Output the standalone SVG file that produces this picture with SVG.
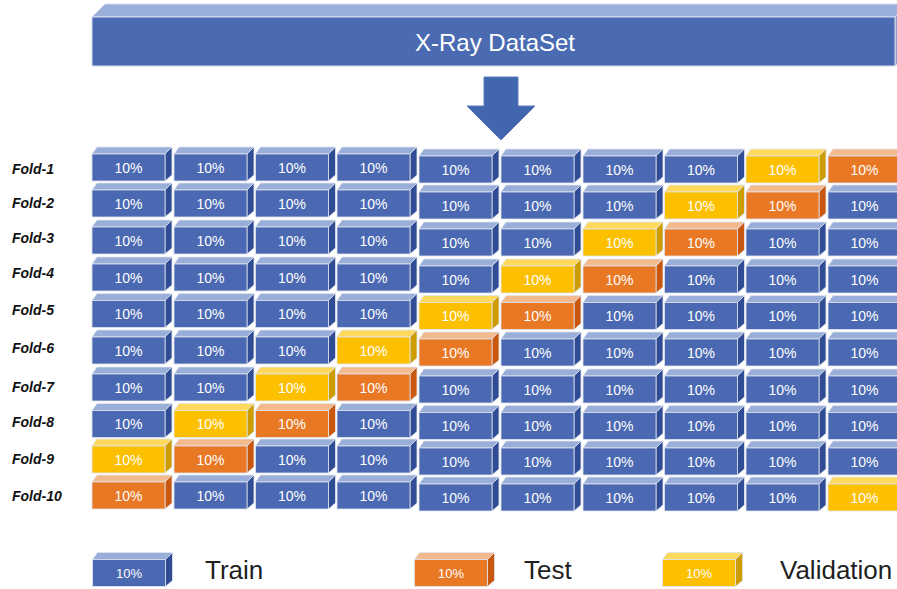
<svg xmlns="http://www.w3.org/2000/svg" xmlns:xlink="http://www.w3.org/1999/xlink" width="897" height="589" viewBox="0 0 897 589">
<style>
.ft{stroke:#dfe4ef;stroke-width:0.8}
.bF{fill:#4A69B2}.bT{fill:#9AAEDA}.bS{fill:#2F4C94}
.oF{fill:#E97824}.oT{fill:#F2BA8D}.oS{fill:#C9580E}
.yF{fill:#FCC000}.yT{fill:#FFD95C}.yS{fill:#CC9C00}
.pc{font-family:"Liberation Sans",Arial,sans-serif;font-size:14px;fill:#ffffff;text-anchor:middle}
.pcl{font-family:"Liberation Sans",Arial,sans-serif;font-size:13px;fill:#ffffff;text-anchor:middle}
.fold{font-family:"Liberation Sans",Arial,sans-serif;font-size:14px;font-weight:bold;font-style:italic;fill:#111111}
.leg{font-family:"Liberation Sans",Arial,sans-serif;font-size:26px;fill:#1f1f1f}
.title{font-family:"Liberation Sans",Arial,sans-serif;font-size:24px;fill:#ffffff;text-anchor:middle}
</style>
<defs>
<g id="B"><polygon class="bT ft" points="0,0 5,-7 80,-7 73,0"/><polygon class="bS ft" points="73,0 80,-7 80,21 73,27"/><rect class="bF ft" x="0" y="0" width="73" height="27"/></g>
<g id="O"><polygon class="oT ft" points="0,0 5,-7 80,-7 73,0"/><polygon class="oS ft" points="73,0 80,-7 80,21 73,27"/><rect class="oF ft" x="0" y="0" width="73" height="27"/></g>
<g id="Y"><polygon class="yT ft" points="0,0 5,-7 80,-7 73,0"/><polygon class="yS ft" points="73,0 80,-7 80,21 73,27"/><rect class="yF ft" x="0" y="0" width="73" height="27"/></g>
</defs>
<rect x="0" y="0" width="897" height="589" fill="#ffffff"/>

<g id="dataset">
<polygon points="92,17 105,4 910,4 895,17" fill="#9BAFDB" stroke="#d6dced" stroke-width="1"/>
<polygon points="895,17 910,4 910,53 895,66" fill="#8A9CCC" stroke="#d6dced" stroke-width="1"/>
<rect x="92" y="17" width="803" height="49" fill="#4A6BB2" stroke="#d6dced" stroke-width="1"/>
<text class="title" x="495" y="51">X-Ray DataSet</text>
</g>

<g id="connectors">
<polygon points="484,77 518,77 518,106 535,106 501,140 467,106 484,106" fill="#4266AD" stroke="#5B7CC0" stroke-width="1"/>
</g>

<g id="labels">
<text class="fold" x="12" y="174">Fold-1</text>
<text class="fold" x="12" y="208">Fold-2</text>
<text class="fold" x="12" y="243">Fold-3</text>
<text class="fold" x="12" y="278">Fold-4</text>
<text class="fold" x="12" y="315">Fold-5</text>
<text class="fold" x="12" y="353">Fold-6</text>
<text class="fold" x="12" y="392">Fold-7</text>
<text class="fold" x="12" y="427">Fold-8</text>
<text class="fold" x="12" y="464">Fold-9</text>
<text class="fold" x="12" y="501">Fold-10</text>
</g>

<g id="fold1">
<g id="r1c1" transform="translate(92,154)"><use href="#B"/><text class="pc" x="36.5" y="18.5">10%</text></g>
<g id="r1c2" transform="translate(174,154)"><use href="#B"/><text class="pc" x="36.5" y="18.5">10%</text></g>
<g id="r1c3" transform="translate(255.5,154)"><use href="#B"/><text class="pc" x="36.5" y="18.5">10%</text></g>
<g id="r1c4" transform="translate(337,154)"><use href="#B"/><text class="pc" x="36.5" y="18.5">10%</text></g>
<g id="r1c5" transform="translate(419,156)"><use href="#B"/><text class="pc" x="36.5" y="18.5">10%</text></g>
<g id="r1c6" transform="translate(501,156)"><use href="#B"/><text class="pc" x="36.5" y="18.5">10%</text></g>
<g id="r1c7" transform="translate(583,156)"><use href="#B"/><text class="pc" x="36.5" y="18.5">10%</text></g>
<g id="r1c8" transform="translate(664.5,156)"><use href="#B"/><text class="pc" x="36.5" y="18.5">10%</text></g>
<g id="r1c9" transform="translate(746,156)"><use href="#Y"/><text class="pc" x="36.5" y="18.5">10%</text></g>
<g id="r1c10" transform="translate(828,156)"><use href="#O"/><text class="pc" x="36.5" y="18.5">10%</text></g>
</g>

<g id="fold2">
<g id="r2c1" transform="translate(92,190)"><use href="#B"/><text class="pc" x="36.5" y="18.5">10%</text></g>
<g id="r2c2" transform="translate(174,190)"><use href="#B"/><text class="pc" x="36.5" y="18.5">10%</text></g>
<g id="r2c3" transform="translate(255.5,190)"><use href="#B"/><text class="pc" x="36.5" y="18.5">10%</text></g>
<g id="r2c4" transform="translate(337,190)"><use href="#B"/><text class="pc" x="36.5" y="18.5">10%</text></g>
<g id="r2c5" transform="translate(419,192)"><use href="#B"/><text class="pc" x="36.5" y="18.5">10%</text></g>
<g id="r2c6" transform="translate(501,192)"><use href="#B"/><text class="pc" x="36.5" y="18.5">10%</text></g>
<g id="r2c7" transform="translate(583,192)"><use href="#B"/><text class="pc" x="36.5" y="18.5">10%</text></g>
<g id="r2c8" transform="translate(664.5,192)"><use href="#Y"/><text class="pc" x="36.5" y="18.5">10%</text></g>
<g id="r2c9" transform="translate(746,192)"><use href="#O"/><text class="pc" x="36.5" y="18.5">10%</text></g>
<g id="r2c10" transform="translate(828,192)"><use href="#B"/><text class="pc" x="36.5" y="18.5">10%</text></g>
</g>

<g id="fold3">
<g id="r3c1" transform="translate(92,227)"><use href="#B"/><text class="pc" x="36.5" y="18.5">10%</text></g>
<g id="r3c2" transform="translate(174,227)"><use href="#B"/><text class="pc" x="36.5" y="18.5">10%</text></g>
<g id="r3c3" transform="translate(255.5,227)"><use href="#B"/><text class="pc" x="36.5" y="18.5">10%</text></g>
<g id="r3c4" transform="translate(337,227)"><use href="#B"/><text class="pc" x="36.5" y="18.5">10%</text></g>
<g id="r3c5" transform="translate(419,229)"><use href="#B"/><text class="pc" x="36.5" y="18.5">10%</text></g>
<g id="r3c6" transform="translate(501,229)"><use href="#B"/><text class="pc" x="36.5" y="18.5">10%</text></g>
<g id="r3c7" transform="translate(583,229)"><use href="#Y"/><text class="pc" x="36.5" y="18.5">10%</text></g>
<g id="r3c8" transform="translate(664.5,229)"><use href="#O"/><text class="pc" x="36.5" y="18.5">10%</text></g>
<g id="r3c9" transform="translate(746,229)"><use href="#B"/><text class="pc" x="36.5" y="18.5">10%</text></g>
<g id="r3c10" transform="translate(828,229)"><use href="#B"/><text class="pc" x="36.5" y="18.5">10%</text></g>
</g>

<g id="fold4">
<g id="r4c1" transform="translate(92,264)"><use href="#B"/><text class="pc" x="36.5" y="18.5">10%</text></g>
<g id="r4c2" transform="translate(174,264)"><use href="#B"/><text class="pc" x="36.5" y="18.5">10%</text></g>
<g id="r4c3" transform="translate(255.5,264)"><use href="#B"/><text class="pc" x="36.5" y="18.5">10%</text></g>
<g id="r4c4" transform="translate(337,264)"><use href="#B"/><text class="pc" x="36.5" y="18.5">10%</text></g>
<g id="r4c5" transform="translate(419,266)"><use href="#B"/><text class="pc" x="36.5" y="18.5">10%</text></g>
<g id="r4c6" transform="translate(501,266)"><use href="#Y"/><text class="pc" x="36.5" y="18.5">10%</text></g>
<g id="r4c7" transform="translate(583,266)"><use href="#O"/><text class="pc" x="36.5" y="18.5">10%</text></g>
<g id="r4c8" transform="translate(664.5,266)"><use href="#B"/><text class="pc" x="36.5" y="18.5">10%</text></g>
<g id="r4c9" transform="translate(746,266)"><use href="#B"/><text class="pc" x="36.5" y="18.5">10%</text></g>
<g id="r4c10" transform="translate(828,266)"><use href="#B"/><text class="pc" x="36.5" y="18.5">10%</text></g>
</g>

<g id="fold5">
<g id="r5c1" transform="translate(92,300.5)"><use href="#B"/><text class="pc" x="36.5" y="18.5">10%</text></g>
<g id="r5c2" transform="translate(174,300.5)"><use href="#B"/><text class="pc" x="36.5" y="18.5">10%</text></g>
<g id="r5c3" transform="translate(255.5,300.5)"><use href="#B"/><text class="pc" x="36.5" y="18.5">10%</text></g>
<g id="r5c4" transform="translate(337,300.5)"><use href="#B"/><text class="pc" x="36.5" y="18.5">10%</text></g>
<g id="r5c5" transform="translate(419,302.5)"><use href="#Y"/><text class="pc" x="36.5" y="18.5">10%</text></g>
<g id="r5c6" transform="translate(501,302.5)"><use href="#O"/><text class="pc" x="36.5" y="18.5">10%</text></g>
<g id="r5c7" transform="translate(583,302.5)"><use href="#B"/><text class="pc" x="36.5" y="18.5">10%</text></g>
<g id="r5c8" transform="translate(664.5,302.5)"><use href="#B"/><text class="pc" x="36.5" y="18.5">10%</text></g>
<g id="r5c9" transform="translate(746,302.5)"><use href="#B"/><text class="pc" x="36.5" y="18.5">10%</text></g>
<g id="r5c10" transform="translate(828,302.5)"><use href="#B"/><text class="pc" x="36.5" y="18.5">10%</text></g>
</g>

<g id="fold6">
<g id="r6c1" transform="translate(92,337)"><use href="#B"/><text class="pc" x="36.5" y="18.5">10%</text></g>
<g id="r6c2" transform="translate(174,337)"><use href="#B"/><text class="pc" x="36.5" y="18.5">10%</text></g>
<g id="r6c3" transform="translate(255.5,337)"><use href="#B"/><text class="pc" x="36.5" y="18.5">10%</text></g>
<g id="r6c4" transform="translate(337,337)"><use href="#Y"/><text class="pc" x="36.5" y="18.5">10%</text></g>
<g id="r6c5" transform="translate(419,339)"><use href="#O"/><text class="pc" x="36.5" y="18.5">10%</text></g>
<g id="r6c6" transform="translate(501,339)"><use href="#B"/><text class="pc" x="36.5" y="18.5">10%</text></g>
<g id="r6c7" transform="translate(583,339)"><use href="#B"/><text class="pc" x="36.5" y="18.5">10%</text></g>
<g id="r6c8" transform="translate(664.5,339)"><use href="#B"/><text class="pc" x="36.5" y="18.5">10%</text></g>
<g id="r6c9" transform="translate(746,339)"><use href="#B"/><text class="pc" x="36.5" y="18.5">10%</text></g>
<g id="r6c10" transform="translate(828,339)"><use href="#B"/><text class="pc" x="36.5" y="18.5">10%</text></g>
</g>

<g id="fold7">
<g id="r7c1" transform="translate(92,374)"><use href="#B"/><text class="pc" x="36.5" y="18.5">10%</text></g>
<g id="r7c2" transform="translate(174,374)"><use href="#B"/><text class="pc" x="36.5" y="18.5">10%</text></g>
<g id="r7c3" transform="translate(255.5,374)"><use href="#Y"/><text class="pc" x="36.5" y="18.5">10%</text></g>
<g id="r7c4" transform="translate(337,374)"><use href="#O"/><text class="pc" x="36.5" y="18.5">10%</text></g>
<g id="r7c5" transform="translate(419,376)"><use href="#B"/><text class="pc" x="36.5" y="18.5">10%</text></g>
<g id="r7c6" transform="translate(501,376)"><use href="#B"/><text class="pc" x="36.5" y="18.5">10%</text></g>
<g id="r7c7" transform="translate(583,376)"><use href="#B"/><text class="pc" x="36.5" y="18.5">10%</text></g>
<g id="r7c8" transform="translate(664.5,376)"><use href="#B"/><text class="pc" x="36.5" y="18.5">10%</text></g>
<g id="r7c9" transform="translate(746,376)"><use href="#B"/><text class="pc" x="36.5" y="18.5">10%</text></g>
<g id="r7c10" transform="translate(828,376)"><use href="#B"/><text class="pc" x="36.5" y="18.5">10%</text></g>
</g>

<g id="fold8">
<g id="r8c1" transform="translate(92,410.5)"><use href="#B"/><text class="pc" x="36.5" y="18.5">10%</text></g>
<g id="r8c2" transform="translate(174,410.5)"><use href="#Y"/><text class="pc" x="36.5" y="18.5">10%</text></g>
<g id="r8c3" transform="translate(255.5,410.5)"><use href="#O"/><text class="pc" x="36.5" y="18.5">10%</text></g>
<g id="r8c4" transform="translate(337,410.5)"><use href="#B"/><text class="pc" x="36.5" y="18.5">10%</text></g>
<g id="r8c5" transform="translate(419,412.5)"><use href="#B"/><text class="pc" x="36.5" y="18.5">10%</text></g>
<g id="r8c6" transform="translate(501,412.5)"><use href="#B"/><text class="pc" x="36.5" y="18.5">10%</text></g>
<g id="r8c7" transform="translate(583,412.5)"><use href="#B"/><text class="pc" x="36.5" y="18.5">10%</text></g>
<g id="r8c8" transform="translate(664.5,412.5)"><use href="#B"/><text class="pc" x="36.5" y="18.5">10%</text></g>
<g id="r8c9" transform="translate(746,412.5)"><use href="#B"/><text class="pc" x="36.5" y="18.5">10%</text></g>
<g id="r8c10" transform="translate(828,412.5)"><use href="#B"/><text class="pc" x="36.5" y="18.5">10%</text></g>
</g>

<g id="fold9">
<g id="r9c1" transform="translate(92,446)"><use href="#Y"/><text class="pc" x="36.5" y="18.5">10%</text></g>
<g id="r9c2" transform="translate(174,446)"><use href="#O"/><text class="pc" x="36.5" y="18.5">10%</text></g>
<g id="r9c3" transform="translate(255.5,446)"><use href="#B"/><text class="pc" x="36.5" y="18.5">10%</text></g>
<g id="r9c4" transform="translate(337,446)"><use href="#B"/><text class="pc" x="36.5" y="18.5">10%</text></g>
<g id="r9c5" transform="translate(419,448)"><use href="#B"/><text class="pc" x="36.5" y="18.5">10%</text></g>
<g id="r9c6" transform="translate(501,448)"><use href="#B"/><text class="pc" x="36.5" y="18.5">10%</text></g>
<g id="r9c7" transform="translate(583,448)"><use href="#B"/><text class="pc" x="36.5" y="18.5">10%</text></g>
<g id="r9c8" transform="translate(664.5,448)"><use href="#B"/><text class="pc" x="36.5" y="18.5">10%</text></g>
<g id="r9c9" transform="translate(746,448)"><use href="#B"/><text class="pc" x="36.5" y="18.5">10%</text></g>
<g id="r9c10" transform="translate(828,448)"><use href="#B"/><text class="pc" x="36.5" y="18.5">10%</text></g>
</g>

<g id="fold10">
<g id="r10c1" transform="translate(92,482)"><use href="#O"/><text class="pc" x="36.5" y="18.5">10%</text></g>
<g id="r10c2" transform="translate(174,482)"><use href="#B"/><text class="pc" x="36.5" y="18.5">10%</text></g>
<g id="r10c3" transform="translate(255.5,482)"><use href="#B"/><text class="pc" x="36.5" y="18.5">10%</text></g>
<g id="r10c4" transform="translate(337,482)"><use href="#B"/><text class="pc" x="36.5" y="18.5">10%</text></g>
<g id="r10c5" transform="translate(419,484)"><use href="#B"/><text class="pc" x="36.5" y="18.5">10%</text></g>
<g id="r10c6" transform="translate(501,484)"><use href="#B"/><text class="pc" x="36.5" y="18.5">10%</text></g>
<g id="r10c7" transform="translate(583,484)"><use href="#B"/><text class="pc" x="36.5" y="18.5">10%</text></g>
<g id="r10c8" transform="translate(664.5,484)"><use href="#B"/><text class="pc" x="36.5" y="18.5">10%</text></g>
<g id="r10c9" transform="translate(746,484)"><use href="#B"/><text class="pc" x="36.5" y="18.5">10%</text></g>
<g id="r10c10" transform="translate(828,484)"><use href="#Y"/><text class="pc" x="36.5" y="18.5">10%</text></g>
</g>

<g id="legend">
<g id="leg-train"><g transform="translate(92.5,559.5)"><use href="#B"/><text class="pcl" x="36.5" y="18.5">10%</text></g><text class="leg" x="205" y="579">Train</text></g>
<g id="leg-test"><g transform="translate(414.5,559.5)"><use href="#O"/><text class="pcl" x="36.5" y="18.5">10%</text></g><text class="leg" x="524" y="579">Test</text></g>
<g id="leg-val"><g transform="translate(662.5,559.5)"><use href="#Y"/><text class="pcl" x="36.5" y="18.5">10%</text></g><text class="leg" x="780" y="579">Validation</text></g>
</g>
</svg>
